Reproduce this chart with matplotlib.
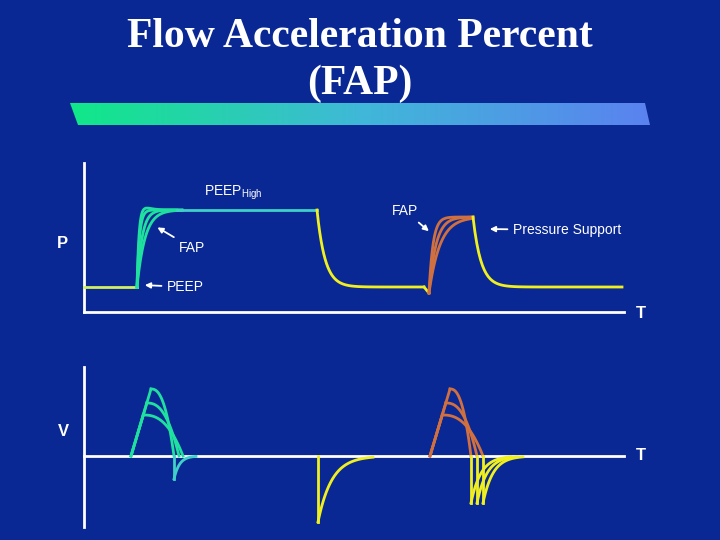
import numpy as np
import matplotlib.pyplot as plt
from matplotlib.patches import Polygon
from matplotlib.colors import LinearSegmentedColormap

plt.rcParams['font.family'] = ['Liberation Sans', 'DejaVu Sans']

BG = '#0a2894'
GREEN = '#20e0a0'
CYAN = '#40d0c8'
YELLOW = '#f0f020'
ORANGE = '#d07040'
WHITE = 'white'

# slide geometry is in pixels (figure is 720x540)
title_lines = ['Flow Acceleration Percent', '(FAP)']

# pressure waveform (pixel y: smaller = higher)
peep_y = 287
peep_high_y = 210
ps_y = 217
p_rise1_x = 137
p_rise1_taus = [2.5, 5.0, 8.0]
p_release1_x = 317
p_rise2_x = 429
p_rise2_taus = [4.0, 7.0, 11.0]
p_release2_x = 473
p_decay_tau = 8.0
p_end_x = 622

# flow waveform
flow_zero_y = 456
flow1_start = 131
flow_peak_y = [389, 403, 415]
flow1_end = [174, 179, 183]
flow1_dip_y = 479
yellow_dip_x = 318
yellow_dip_y = 522
flow2_start = 430
flow2_end = [471, 477, 483]
flow2_dip_y = 503
flow_peak_dx = 20


def decay(t0, t1, y_from, y_to, tau, n=80):
    t = np.linspace(t0, t1, n)
    return t, y_to + (y_from - y_to) * np.exp(-(t - t0) / tau)


fig = plt.figure(figsize=(7.2, 5.4), dpi=100, facecolor=BG)
ax = fig.add_axes([0, 0, 1, 1])
ax.set_facecolor(BG)
ax.axis('off')

# title
for yy, line in zip([37, 84], title_lines):
    ax.text(360, yy, line, color=WHITE, ha='center', va='center',
            fontsize=30, fontweight='bold', family='Liberation Serif')

# gradient bar
cmap = LinearSegmentedColormap.from_list('bar', ['#10e888', '#40b8d8', '#5a82f0'])
grad = np.linspace(0, 1, 256).reshape(1, -1)
img = ax.imshow(grad, cmap=cmap, extent=[70, 650, 125, 103], aspect='auto', zorder=1)
clip = Polygon([[70, 103], [645, 103], [650, 125], [78, 125]], closed=True, transform=ax.transData)
img.set_clip_path(clip)
ax.set_xlim(0, 720)
ax.set_ylim(540, 0)

# axes of the pressure panel
ax.plot([84, 84], [163, 312], color=WHITE, lw=2)
ax.plot([84, 624], [312, 312], color=WHITE, lw=2)
ax.text(641, 313, 'T', color=WHITE, fontsize=12, fontweight='bold', ha='center', va='center')
ax.text(62, 244, 'P', color=WHITE, fontsize=12, fontweight='bold', ha='center', va='center')

# baseline
ax.plot([84, p_rise1_x], [peep_y, peep_y], color='#d0f060', lw=2)
# green rises
for tau in p_rise1_taus:
    t, y = decay(p_rise1_x, p_rise1_x + 45, peep_y, peep_high_y, tau)
    ax.plot(t, y, color=GREEN, lw=2)
t = np.linspace(p_rise1_x, p_rise1_x + 40, 80)
y = peep_high_y - (peep_high_y - peep_y) * np.exp(-(t - p_rise1_x) / 2.0) - 18 * (t - p_rise1_x) / 10 * np.exp(-(t - p_rise1_x) / 5.0)
ax.plot(t, y, color=GREEN, lw=2)
ax.plot([p_rise1_x + 40, p_release1_x], [peep_high_y, peep_high_y], color=CYAN, lw=2)
t, y = decay(p_release1_x, p_rise2_x - 5, peep_high_y, peep_y, p_decay_tau)
ax.plot(t, y, color=YELLOW, lw=2)
ax.plot([p_rise2_x - 5, p_rise2_x], [peep_y, 293], color=YELLOW, lw=2)
for tau in p_rise2_taus:
    t, y = decay(p_rise2_x, p_release2_x, 293, ps_y, tau)
    ax.plot(t, y, color=ORANGE, lw=2)
t, y = decay(p_release2_x, p_end_x, ps_y, peep_y, p_decay_tau)
ax.plot(t, y, color=YELLOW, lw=2)

# pressure annotations
arrow = dict(arrowstyle='-|>', color=WHITE, lw=1.3, mutation_scale=8)
ax.text(204, 193, r'PEEP$_{\mathregular{High}}$', color=WHITE, fontsize=10, va='center')
ax.annotate('FAP', xy=(155, 226), xytext=(179, 248), color=WHITE, fontsize=10,
            va='center', arrowprops=arrow)
ax.annotate('PEEP', xy=(142, 285), xytext=(167, 287), color=WHITE, fontsize=10,
            va='center', arrowprops=arrow)
ax.annotate('FAP', xy=(431, 233), xytext=(392, 211), color=WHITE, fontsize=10,
            va='center', arrowprops=arrow)
ax.annotate('Pressure Support', xy=(487, 229), xytext=(513, 230), color=WHITE, fontsize=10,
            va='center', arrowprops=arrow)

# axes of the flow panel
ax.plot([84, 84], [367, 527], color=WHITE, lw=2)
ax.plot([84, 624], [flow_zero_y, flow_zero_y], color=WHITE, lw=2)
ax.text(641, 455, 'T', color=WHITE, fontsize=12, fontweight='bold', ha='center', va='center')
ax.text(63, 431, 'V', color=WHITE, fontsize=12, fontweight='bold', ha='center', va='center')


def flow_breath(start, ends, color):
    slope = (flow_zero_y - flow_peak_y[0]) / flow_peak_dx
    for py, e in zip(flow_peak_y, ends):
        px = start + (flow_zero_y - py) / slope
        ax.plot([start, px], [flow_zero_y, py], color=color, lw=2)
        t = np.linspace(px, e, 60)
        s = (t - px) / (e - px)
        ax.plot(t, py + (flow_zero_y - py) * s ** 2.5, color=color, lw=2)


def exhale(x0, depth_y, length, color):
    t, y = decay(x0, x0 + length, depth_y, flow_zero_y, length / 4)
    ax.plot([x0, x0], [flow_zero_y, depth_y], color=color, lw=2)
    ax.plot(t, y, color=color, lw=2)


flow_breath(flow1_start, flow1_end, GREEN)
exhale(flow1_end[0], flow1_dip_y, 22, CYAN)
exhale(yellow_dip_x, yellow_dip_y, 55, YELLOW)
flow_breath(flow2_start, flow2_end, ORANGE)
for e in flow2_end:
    exhale(e, flow2_dip_y, 40, YELLOW)

fig.savefig('out.png', dpi=100, facecolor=BG)
